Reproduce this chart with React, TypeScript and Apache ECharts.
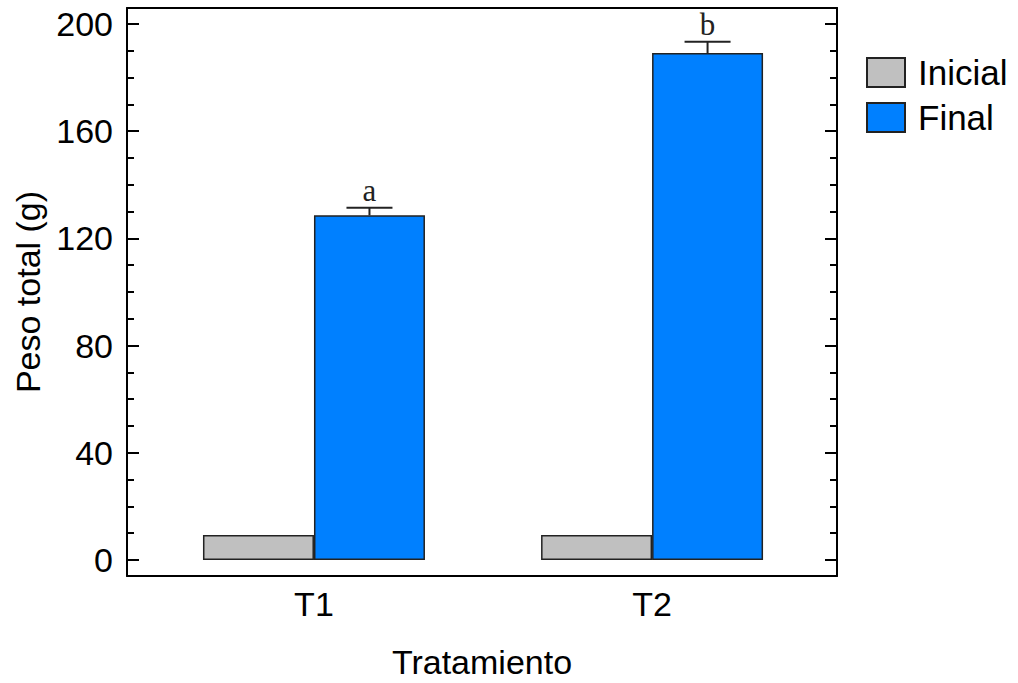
import React, { useEffect, useRef } from 'react';
import * as echarts from 'echarts';

const categories = ['T1', 'T2'];
const inicial = [9.3, 9.3];
const final = [128.6, 189.2];
const errorTop = [131.4, 193.4];
const letters = ['a', 'b'];
const yMajorTicks = [0, 40, 80, 120, 160, 200];
const yMinorTicks = [10, 20, 30, 50, 60, 70, 90, 100, 110, 130, 140, 150, 170, 180, 190];

export default function App() {
  const ref = useRef<HTMLDivElement>(null);
  useEffect(() => {
    const chart = echarts.init(ref.current!, null, { renderer: 'svg' });
    const font = '"Liberation Sans", Arial, sans-serif';
    const yMin = -6;
    const yMax = 206;
    const xMin = 0.447;
    const xMax = 2.547;
    const barW = 111;
    const line = { color: '#000', width: 2 };
    const hiddenX = { show: false };
    const yBase = (position: string, ticks: number[], len: number, showLine: boolean) => ({
      type: 'value',
      position,
      min: yMin,
      max: yMax,
      splitLine: { show: false },
      axisLine: { show: showLine, onZero: false, lineStyle: line },
      axisTick: { show: true, inside: true, length: len, customValues: ticks, lineStyle: line },
      axisLabel: { show: false },
    });
    const yLeft: any = yBase('left', yMajorTicks, 12, true);
    yLeft.axisLabel = {
      show: true,
      customValues: yMajorTicks,
      fontSize: 34,
      fontFamily: font,
      color: '#000',
      margin: 14,
    };
    yLeft.name = 'Peso total (g)';
    yLeft.nameLocation = 'middle';
    yLeft.nameGap = 80;
    yLeft.nameTextStyle = { fontSize: 34, fontFamily: font, color: '#000' };

    chart.setOption({
      animation: false,
      backgroundColor: '#fff',
      grid: { left: 127, right: 181, top: 8, bottom: 107, containLabel: false, outerBoundsMode: 'none' },
      legend: {
        data: ['Inicial', 'Final'],
        orient: 'vertical',
        left: 866,
        top: 55,
        padding: 0,
        itemWidth: 38,
        itemHeight: 29,
        itemGap: 10,
        icon: 'rect',
        textStyle: { fontSize: 35, fontFamily: font, color: '#000', lineHeight: 29, padding: [0, 0, 0, 8] },
      },
      xAxis: [
        {
          type: 'value',
          position: 'bottom',
          min: xMin,
          max: xMax,
          splitLine: { show: false },
          axisLine: { show: true, onZero: false, lineStyle: line },
          axisTick: { show: false },
          axisLabel: {
            customValues: [1, 2],
            formatter: (v: number) => categories[Math.round(v) - 1] ?? '',
            fontSize: 34,
            fontFamily: font,
            color: '#000',
            margin: 11,
          },
          name: 'Tratamiento',
          nameLocation: 'middle',
          nameGap: 69,
          nameTextStyle: { fontSize: 34, fontFamily: font, color: '#000' },
        },
        {
          type: 'value',
          position: 'top',
          min: xMin,
          max: xMax,
          splitLine: { show: false },
          axisLine: { show: true, onZero: false, lineStyle: line },
          axisTick: hiddenX,
          axisLabel: hiddenX,
        },
      ],
      yAxis: [
        yLeft,
        yBase('left', yMinorTicks, 7, false),
        yBase('right', yMajorTicks, 12, true),
        yBase('right', yMinorTicks, 7, false),
      ],
      series: [
        {
          name: 'Inicial',
          type: 'bar',
          xAxisIndex: 0,
          yAxisIndex: 0,
          barWidth: barW,
          barGap: '0%',
          data: categories.map((_, i) => [i + 1, inicial[i]]),
          itemStyle: { color: '#c0c0c0', borderColor: '#222', borderWidth: 1.5 },
        },
        {
          name: 'Final',
          type: 'bar',
          xAxisIndex: 0,
          yAxisIndex: 0,
          barWidth: barW,
          barGap: '0%',
          data: categories.map((_, i) => [i + 1, final[i]]),
          itemStyle: { color: '#0080ff', borderColor: '#222', borderWidth: 1.5 },
        },
        {
          name: 'error',
          type: 'custom',
          xAxisIndex: 0,
          yAxisIndex: 0,
          data: categories.map((_, i) => [i + 1, final[i], errorTop[i], i]),
          renderItem: (params: any, api: any) => {
            const x = api.value(0);
            const mean = api.value(1);
            const top = api.value(2);
            const idx = api.value(3);
            const pm = api.coord([x, mean]);
            const pt = api.coord([x, top]);
            const cx = pm[0] + barW / 2;
            return {
              type: 'group',
              children: [
                { type: 'line', shape: { x1: cx, y1: pm[1], x2: cx, y2: pt[1] }, style: { stroke: '#222', lineWidth: 2 } },
                { type: 'line', shape: { x1: cx - 23, y1: pt[1], x2: cx + 23, y2: pt[1] }, style: { stroke: '#222', lineWidth: 2 } },
                {
                  type: 'text',
                  x: cx,
                  y: pt[1] - 2,
                  style: {
                    text: letters[idx],
                    fontSize: 31,
                    fontFamily: '"Liberation Serif", "Times New Roman", serif',
                    fill: '#222',
                    align: 'center',
                    verticalAlign: 'bottom',
                  },
                },
              ],
            };
          },
        },
      ],
    });
    return () => chart.dispose();
  }, []);
  return <div ref={ref} style={{ position: 'fixed', left: 0, top: 0, width: 1018, height: 683 }} />;
}
